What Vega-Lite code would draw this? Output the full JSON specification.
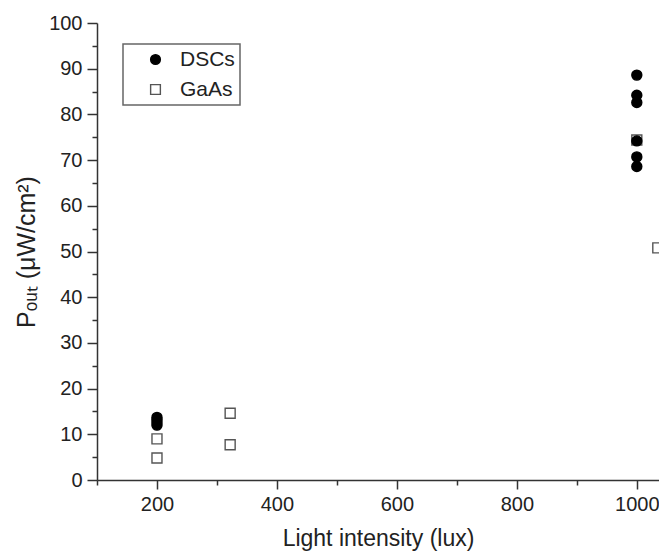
{
  "$schema": "https://vega.github.io/schema/vega-lite/v6.json",
  "width": 562,
  "height": 457,
  "autosize": {"type": "none"},
  "padding": {"left": 97, "top": 23, "right": 0, "bottom": 74},
  "background": "white",
  "config": {
    "view": {"stroke": null},
    "font": "Liberation Sans",
    "axis": {"domainColor": "#333", "tickColor": "#333", "domainWidth": 1.5, "tickWidth": 1.5, "labelColor": "#222", "titleColor": "#222", "labelFont": "Liberation Sans", "titleFont": "Liberation Sans", "labelFontSize": 20, "titleFontSize": 23, "titleFontWeight": "normal", "grid": false},
    "legend": {
      "orient": "none", "legendX": 26, "legendY": 21,
      "padding": 5, "rowPadding": 8, "symbolOffset": 17, "labelOffset": 14,
      "labelFont": "Liberation Sans", "labelFontSize": 21, "labelColor": "#222",
      "strokeColor": "#666", "strokeWidth": 1.5, "fillColor": "white",
      "symbolSize": 95, "symbolStrokeWidth": 1.4
    }
  },
  "data": {
    "values": [
      {"lux": 200, "pout": 9.0, "series": "GaAs"},
      {"lux": 200, "pout": 4.8, "series": "GaAs"},
      {"lux": 322, "pout": 14.6, "series": "GaAs"},
      {"lux": 322, "pout": 7.7, "series": "GaAs"},
      {"lux": 1000, "pout": 74.4, "series": "GaAs"},
      {"lux": 1035, "pout": 50.8, "series": "GaAs"},
      {"lux": 200, "pout": 13.7, "series": "DSCs"},
      {"lux": 200, "pout": 13.2, "series": "DSCs"},
      {"lux": 200, "pout": 12.6, "series": "DSCs"},
      {"lux": 200, "pout": 12.0, "series": "DSCs"},
      {"lux": 1000, "pout": 88.6, "series": "DSCs"},
      {"lux": 1000, "pout": 84.2, "series": "DSCs"},
      {"lux": 1000, "pout": 82.6, "series": "DSCs"},
      {"lux": 1000, "pout": 74.2, "series": "DSCs"},
      {"lux": 1000, "pout": 70.7, "series": "DSCs"},
      {"lux": 1000, "pout": 68.6, "series": "DSCs"}
    ]
  },
  "mark": {"type": "point", "filled": false, "size": 100, "strokeWidth": 1.4, "opacity": 1, "clip": true},
  "encoding": {
    "x": {
      "field": "lux", "type": "quantitative",
      "scale": {"domain": [100, 1037], "nice": false, "zero": false},
      "axis": {
        "title": "Light intensity (lux)",
        "values": [100, 200, 300, 400, 500, 600, 700, 800, 900, 1000],
        "labelExpr": "datum.value % 200 == 0 ? datum.label : ''",
        "format": "d",
        "tickSize": {"condition": {"test": "datum.value % 200 == 0", "value": 9}, "value": 5},
        "labelPadding": 5,
        "titlePadding": 13,
        "labelOverlap": false
      }
    },
    "y": {
      "field": "pout", "type": "quantitative",
      "scale": {"domain": [0, 100], "nice": false},
      "axis": {
        "title": "Pₒᵤₜ (μW/cm²)",
        "titleFontSize": 25,
        "values": [0, 5, 10, 15, 20, 25, 30, 35, 40, 45, 50, 55, 60, 65, 70, 75, 80, 85, 90, 95, 100],
        "labelExpr": "datum.value % 10 == 0 ? datum.label : ''",
        "tickSize": {"condition": {"test": "datum.value % 10 == 0", "value": 10}, "value": 5},
        "labelPadding": 5,
        "titlePadding": 9,
        "labelOverlap": false
      }
    },
    "shape": {"field": "series", "type": "nominal", "scale": {"domain": ["DSCs", "GaAs"], "range": ["circle", "square"]}, "legend": {"title": null}},
    "fill": {"field": "series", "type": "nominal", "scale": {"domain": ["DSCs", "GaAs"], "range": ["black", "white"]}, "legend": {"title": null}},
    "stroke": {"field": "series", "type": "nominal", "scale": {"domain": ["DSCs", "GaAs"], "range": ["black", "#555"]}, "legend": {"title": null}},
    "order": {"field": "series", "sort": "descending"}
  }
}
